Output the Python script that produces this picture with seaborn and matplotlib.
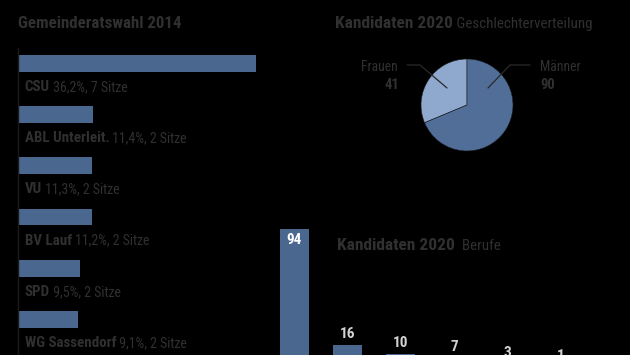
import matplotlib
matplotlib.use("Agg")
import matplotlib.pyplot as plt
import seaborn as sns
import pandas as pd
from matplotlib import font_manager as fm

# ---- data ----
parties = ["CSU", "ABL Unterleit.", "VU", "BV Lauf", "SPD", "WG Sassendorf"]
party_pct = [36.2, 11.4, 11.3, 11.2, 9.5, 9.1]
party_pct_labels = ["36,2%", "11,4%", "11,3%", "11,2%", "9,5%", "9,1%"]
party_seats = [7, 2, 2, 2, 2, 2]

gender_labels = ["Frauen", "Männer"]
gender_counts = [41, 90]

jobs = ["Beruf 1", "Beruf 2", "Beruf 3", "Beruf 4", "Beruf 5", "Beruf 6"]
job_counts = [94, 16, 10, 7, 3, 1]

BG = "#000000"
TXT = "#303030"
BAR = "#4a678f"
PIE_DARK = "#506e97"
PIE_LIGHT = "#8ea8ce"

sns.set_theme(style="white")
avail = {f.name for f in fm.fontManager.ttflist}
fams = [f for f in ["Roboto Condensed", "Liberation Sans Narrow", "DejaVu Sans Condensed",
                    "Roboto", "DejaVu Sans"] if f in avail]
plt.rcParams["font.family"] = fams

W, H = 630, 355
fig = plt.figure(figsize=(W / 100, H / 100), dpi=100, facecolor=BG)


def px_axes(left, top, right, bottom):
    return fig.add_axes([left / W, 1 - bottom / H, (right - left) / W, (bottom - top) / H])


# ---- left: Gemeinderatswahl 2014 ----
ax1 = px_axes(18, 48, 268, 355)
ax1.set_facecolor(BG)
df1 = pd.DataFrame({"party": parties, "pct": party_pct})
sns.barplot(data=df1, x="pct", y="party", color=BAR, saturation=1,
            width=0.33, ax=ax1, orient="h", edgecolor="none", linewidth=0)
ax1.set_xlim(0, 250 / 6.57)
ax1.set_ylim(5.697, -0.303)
ax1.set_xticks([])
ax1.set_yticks([])
ax1.set_xlabel("")
ax1.set_ylabel("")
for s in ["top", "right", "bottom"]:
    ax1.spines[s].set_visible(False)
ax1.spines["left"].set_color("#1a1a1a")
ax1.spines["left"].set_linewidth(1.0)
for i, (p, l, s) in enumerate(zip(parties, party_pct_labels, party_seats)):
    t1 = ax1.text(1.0, i + 0.54, p, weight="bold", size=10.8, color=TXT,
                  ha="left", va="baseline")
    ax1.annotate(f" {l}, {s} Sitze", xy=(1, 0), xycoords=t1, size=10,
                 color=TXT, ha="left", va="bottom")

fig.text(18 / W, 1 - 28 / H, "Gemeinderatswahl 2014", weight="bold",
         size=12.2, color=TXT, ha="left", va="baseline")

# ---- pie: Geschlechterverteilung ----
cx, cy, r = 467, 105, 46
ax2 = px_axes(cx - r, cy - r, cx + r, cy + r)
ax2.set_facecolor(BG)
ax2.pie(gender_counts, colors=[PIE_LIGHT, PIE_DARK], startangle=90,
        counterclock=True, radius=1,
        wedgeprops=dict(edgecolor="#1a1a1a", linewidth=0.4))
ax2.set_xlim(-1, 1)
ax2.set_ylim(-1, 1)
ax2.set_axis_off()


def d(px, py):
    return ((px - cx) / r, (cy - py) / r)


for pts in ([(407, 65), (420, 65), (447, 88)], [(530, 65), (510, 65), (488, 88)]):
    xs, ys = zip(*[d(*p) for p in pts])
    ax2.plot(xs, ys, color="#2a2a2a", lw=0.9, clip_on=False)

fx, fy = d(398, 71)
ax2.text(fx, fy, gender_labels[0], size=9.8, color=TXT, ha="right", va="baseline")
fx, fy = d(399, 89)
ax2.text(fx, fy, str(gender_counts[0]), size=10.5, weight="bold", color=TXT,
         ha="right", va="baseline")
mx, my = d(540, 71)
ax2.text(mx, my, gender_labels[1], size=9.8, color=TXT, ha="left", va="baseline")
mx, my = d(540, 89)
ax2.text(mx, my, str(gender_counts[1]), size=10.5, weight="bold", color=TXT,
         ha="left", va="baseline")

t1 = fig.text(335 / W, 1 - 28 / H, "Kandidaten 2020", weight="bold", size=12.5,
              color=TXT, ha="left", va="baseline")
fig.add_artist(matplotlib.text.Annotation(
    " Geschlechterverteilung", xy=(1, 0), xycoords=t1, size=10.8, color=TXT,
    ha="left", va="bottom"))

# ---- bottom right: Berufe ----
ax3 = px_axes(268, 200, 630, 369)
ax3.set_facecolor((0, 0, 0, 0))
df3 = pd.DataFrame({"job": jobs, "n": job_counts})
sns.barplot(data=df3, x="job", y="n", color=BAR, saturation=1, width=0.545, ax=ax3,
            edgecolor="none", linewidth=0)
ax3.set_xlim(-0.498, -0.498 + 362 / 53.2)
ax3.set_ylim(0, 169 / 1.487)
ax3.set_axis_off()
for i, v in enumerate(job_counts):
    if i == 0:
        ax3.annotate(str(v), xy=(i, v), xytext=(0, -3), textcoords="offset points",
                     ha="center", va="top", size=11, weight="bold", color="white")
    else:
        ax3.annotate(str(v), xy=(i, v), xytext=(0, 3), textcoords="offset points",
                     ha="center", va="bottom", size=11, weight="bold", color="#d2d2d2",
                     annotation_clip=False)

t1 = fig.text(337 / W, 1 - 250 / H, "Kandidaten 2020", weight="bold", size=12.5,
              color=TXT, ha="left", va="baseline")
fig.add_artist(matplotlib.text.Annotation(
    "  Berufe", xy=(1, 0), xycoords=t1, size=10.8, color=TXT,
    ha="left", va="bottom"))

fig.savefig("out.png", dpi=100, facecolor=BG)
